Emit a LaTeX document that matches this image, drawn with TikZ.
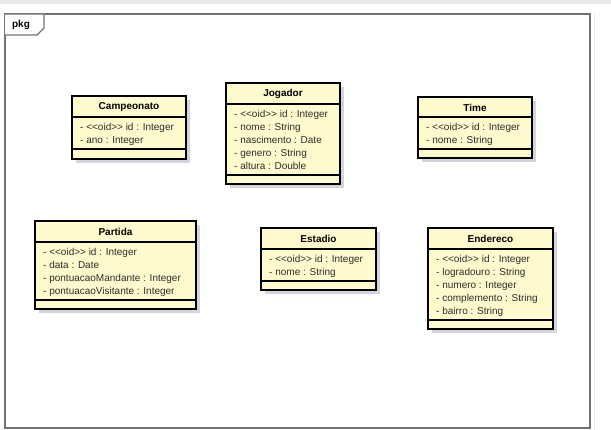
\documentclass[tikz,border=0pt]{standalone}
\usepackage{fontspec}
\newfontfamily\uifont{Liberation Sans}
\usetikzlibrary{calc}
\definecolor{clsfill}{RGB}{255,249,206}
\definecolor{shadowc}{RGB}{212,212,220}
\definecolor{framec}{RGB}{115,115,115}
\definecolor{attrc}{RGB}{45,45,45}
\definecolor{barc}{RGB}{232,232,236}
\tikzset{
  x=1pt, y=-1pt,
  clsbox/.style={draw=black, line width=1.8pt, fill=clsfill, inner sep=0pt, outer sep=0pt, anchor=north west},
  shadowbox/.style={fill=shadowc, draw=none, inner sep=0pt, outer sep=0pt, anchor=north west},
  clstitle/.style={font=\uifont\fontsize{10}{12}\selectfont\bfseries, inner sep=0pt, text=black},
  clsattr/.style={font=\uifont\fontsize{10}{13}\selectfont, inner sep=0pt, anchor=base west, text=attrc},
  divline/.style={line width=1.4pt, draw=black},
  framebox/.style={draw=framec, line width=1.3pt, fill=white, inner sep=0pt, outer sep=0pt, anchor=north west},
}
\newcommand{\umlclass}[9]{%
  \pgfmathsetmacro{\cw}{#5-#3}%
  \pgfmathsetmacro{\ch}{#8-#4}%
  \node[shadowbox, minimum width=\cw pt, minimum height=\ch pt] (#1-shadow) at (#3+4,#4+4) {};
  \node[clsbox, minimum width=\cw pt, minimum height=\ch pt] (#1) at (#3,#4) {};
  \draw[divline] (#3,#6) -- (#5,#6);
  \draw[divline] (#3,#7) -- (#5,#7);
  \node[clstitle] (#1-title) at ({(#3+#5)/2},{(#4+#6)/2+0.5}) {#2};
  \foreach \a [count=\i] in {#9} {
    \node[clsattr] (#1-a\i) at (#3+8,{#6+13.6+13*(\i-1)}) {\a};
  }
}
\begin{document}
\begin{tikzpicture}
\useasboundingbox (0,0) rectangle (611,430);
\fill[white] (0,0) rectangle (611,430);
\fill[barc] (0,0) rectangle (611,4);
\draw[barc, line width=1pt] (594,14) -- (594,430);
% package frame
\node[framebox, minimum width=585pt, minimum height=414pt] (frame) at (5,14) {};
\draw[draw=framec, line width=1.2pt, fill=white] (5,14) -- (44,14) -- (44,28) -- (37,35) -- (5,35);
\node[font=\uifont\fontsize{10}{12}\selectfont\bfseries, inner sep=0pt] (pkg) at (21,25) {pkg};
% classes
\umlclass{campeonato}{Campeonato}{72}{96}{186}{117}{149}{159}{- <<oid>> id : Integer, - ano : Integer}
\umlclass{jogador}{Jogador}{226}{83}{340}{104}{175}{184}{- <<oid>> id : Integer, - nome : String, - nascimento : Date, - genero : String, - altura : Double}
\umlclass{time}{Time}{418}{97}{532}{117}{149}{158}{- <<oid>> id : Integer, - nome : String}
\umlclass{partida}{Partida}{35}{221}{196}{242}{300}{309}{- <<oid>> id : Integer, - data : Date, - pontuacaoMandante : Integer, - pontuacaoVisitante : Integer}
\umlclass{estadio}{Estadio}{261}{228}{376}{249}{281}{290}{- <<oid>> id : Integer, - nome : String}
\umlclass{endereco}{Endereco}{428}{228}{553}{249}{320}{329}{- <<oid>> id : Integer, - logradouro : String, - numero : Integer, - complemento : String, - bairro : String}
\end{tikzpicture}
\end{document}
